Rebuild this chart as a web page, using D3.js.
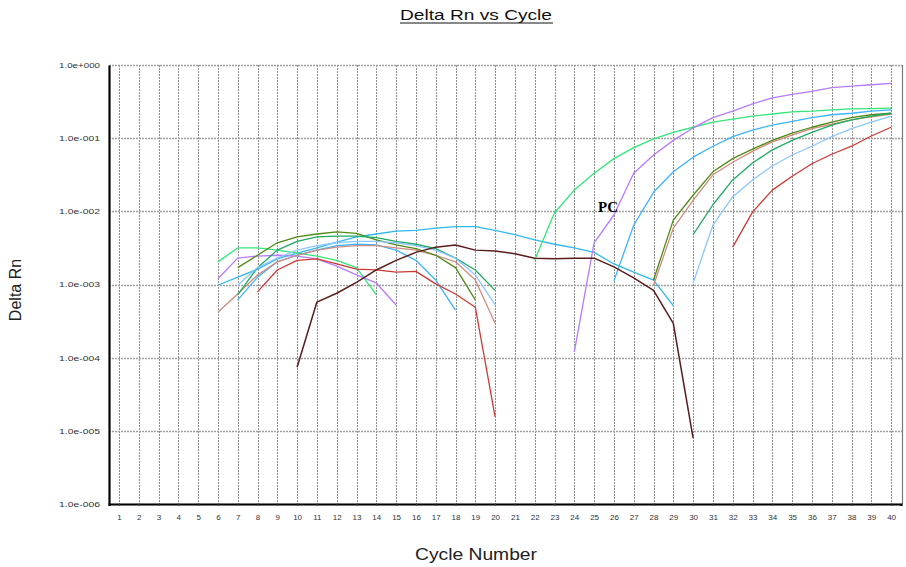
<!DOCTYPE html>
<html>
<head>
<meta charset="utf-8">
<script src="https://cdn.jsdelivr.net/npm/d3@7"></script>
<style>
  html, body { margin: 0; padding: 0; background: #fff; }
  svg { display: block; }
</style>
</head>
<body>
<svg id="chart" width="906" height="567"></svg>
<script>
// ---------------- DATA ----------------
const cycles = [1,2,3,4,5,6,7,8,9,10,11,12,13,14,15,16,17,18,19,20,21,22,23,24,25,26,27,28,29,30,31,32,33,34,35,36,37,38,39,40];
const yTickValues = [1, 1e-1, 1e-2, 1e-3, 1e-4, 1e-5, 1e-6];
const yTickLabels = ["1.0e+000","1.0e-001","1.0e-002","1.0e-003","1.0e-004","1.0e-005","1.0e-006"];
const _ = null;

// Delta Rn per cycle (null = not plotted on log scale)
const wellBlueLong = [_,_,_,_,_, 9.77e-4,1.26e-3,1.62e-3,2.24e-3,2.69e-3,3.16e-3,3.80e-3,4.47e-3,4.90e-3,5.37e-3,5.50e-3,5.89e-3,6.17e-3,6.17e-3,5.50e-3,4.79e-3,4.07e-3,3.55e-3,3.16e-3,2.75e-3,1.91e-3,1.48e-3,1.15e-3,5.13e-4, _,_,_,_,_,_,_,_,_,_,_];
const wellGreen = [_,_,_,_,_, 2.04e-3,3.16e-3,3.16e-3,2.95e-3,2.69e-3,2.45e-3,2.14e-3,1.70e-3,7.24e-4, _,_,_,_,_,_,_, 2.16e-3,9.55e-3,1.95e-2,3.31e-2,5.25e-2,7.41e-2,9.77e-2,0.120,0.141,0.166,0.182,0.200,0.214,0.229,0.234,0.243,0.251,0.254,0.257];
const wellPurple = [_,_,_,_,_, 1.20e-3,2.29e-3,2.45e-3,2.51e-3,2.45e-3,2.24e-3,1.78e-3,1.35e-3,1.05e-3,5.25e-4, _,_,_,_,_,_,_,_, 1.20e-4,3.72e-3,8.91e-3,3.31e-2,5.89e-2,9.33e-2,0.138,0.191,0.234,0.295,0.355,0.398,0.437,0.490,0.513,0.537,0.562];
const wellLightBlue = [_,_,_,_,_,_, 6.17e-4,1.26e-3,2.04e-3,2.51e-3,2.95e-3,3.39e-3,3.55e-3,3.47e-3,2.95e-3,2.14e-3,1.15e-3,4.47e-4, _,_,_,_,_,_,_, 1.12e-3,6.46e-3,1.82e-2,3.47e-2,5.50e-2,7.76e-2,0.105,0.129,0.151,0.170,0.191,0.209,0.219,0.234,0.243];
const wellRose = [_,_,_,_,_, 4.17e-4,7.41e-4,1.35e-3,2.04e-3,2.51e-3,2.95e-3,3.24e-3,3.39e-3,3.39e-3,3.16e-3,2.95e-3,2.51e-3,2.04e-3,1.15e-3,2.95e-4, _,_,_,_,_,_,_, 9.77e-4,5.89e-3,1.41e-2,3.16e-2,4.68e-2,6.61e-2,8.91e-2,0.110,0.135,0.155,0.178,0.195,0.214];
const wellOlive = [_,_,_,_,_,_, 1.70e-3,2.51e-3,3.72e-3,4.47e-3,4.90e-3,5.25e-3,5.01e-3,4.07e-3,3.47e-3,3.09e-3,2.51e-3,1.70e-3,6.17e-4, _,_,_,_,_,_,_,_, 1.15e-3,7.59e-3,1.66e-2,3.47e-2,5.25e-2,7.08e-2,9.33e-2,0.117,0.141,0.166,0.191,0.209,0.219];
const wellDarkGreen = [_,_,_,_,_,_, 7.24e-4,1.70e-3,2.95e-3,3.89e-3,4.47e-3,4.57e-3,4.57e-3,4.37e-3,3.89e-3,3.55e-3,3.09e-3,2.29e-3,1.58e-3,8.32e-4, _,_,_,_,_,_,_,_,_, 4.79e-3,1.23e-2,2.69e-2,4.57e-2,6.92e-2,9.33e-2,0.120,0.151,0.178,0.200,0.219];
const wellPaleBlue = [_,_,_,_,_,_, 9.77e-4,1.70e-3,2.29e-3,2.95e-3,3.39e-3,3.72e-3,3.89e-3,3.89e-3,3.72e-3,3.39e-3,2.95e-3,2.29e-3,1.35e-3,5.25e-4, _,_,_,_,_,_,_,_,_, 1.05e-3,6.46e-3,1.58e-2,2.69e-2,4.17e-2,5.89e-2,7.76e-2,0.105,0.135,0.166,0.200];
const wellRed = [_,_,_,_,_,_,_, 7.94e-4,1.58e-3,2.14e-3,2.24e-3,1.91e-3,1.62e-3,1.58e-3,1.48e-3,1.51e-3,1.02e-3,7.41e-4,4.90e-4,1.55e-5, _,_,_,_,_,_,_,_,_,_,_, 3.24e-3,9.77e-3,1.95e-2,3.02e-2,4.47e-2,6.03e-2,7.76e-2,0.107,0.141];
const wellBrown = [_,_,_,_,_,_,_,_,_, 7.41e-5,5.75e-4,7.59e-4,1.07e-3,1.58e-3,2.14e-3,2.75e-3,3.24e-3,3.47e-3,2.95e-3,2.88e-3,2.63e-3,2.29e-3,2.24e-3,2.29e-3,2.29e-3,1.74e-3,1.23e-3,8.32e-4,2.95e-4,7.94e-6, _,_,_,_,_,_,_,_,_,_];

const wellNames = ["blueLong","green","purple","lightBlue","rose","olive","darkGreen","paleBlue","red","brown"];
const wellColors = ["#2fb8f0","#33e678","#b77bff","#3cb4ff","#d08a80","#4f8a14","#1faa62","#8cc8ff","#cc3a36","#5a1c1c"];
const wellData = [wellBlueLong, wellGreen, wellPurple, wellLightBlue, wellRose, wellOlive, wellDarkGreen, wellPaleBlue, wellRed, wellBrown];

const annotationText = "PC";
const annotationCycle = 25.2;
const annotationValue = 1e-2;

// ---------------- LAYOUT ----------------
const svg = d3.select("#chart");
const pLeft = 109, pRight = 902, pTop = 65, pBottom = 504;

const x = d3.scaleLinear().domain([0.5, 40.5]).range([pLeft, pRight - 1]);
const y = d3.scaleLog().domain([1e-6, 1]).range([pBottom, pTop]);

// Title
svg.append("text")
  .attr("x", 476).attr("y", 20)
  .attr("text-anchor", "middle")
  .attr("font-family", "Liberation Sans, Arial, sans-serif")
  .attr("font-size", 15)
  .attr("textLength", 152).attr("lengthAdjust", "spacingAndGlyphs")
  .attr("fill", "#111")
  .text("Delta Rn vs Cycle");
svg.append("line").attr("x1", 400).attr("x2", 553).attr("y1", 23).attr("y2", 23)
  .attr("stroke", "#111").attr("stroke-width", 1);

// Grid: vertical
svg.append("g").selectAll("line").data(cycles).join("line")
  .attr("x1", d => Math.round(x(d)) + 0.5).attr("x2", d => Math.round(x(d)) + 0.5)
  .attr("y1", pTop).attr("y2", pBottom)
  .attr("stroke", "#8f8f8f").attr("stroke-width", 1)
  .attr("stroke-dasharray", "2,1");

// Grid: horizontal
svg.append("g").selectAll("line").data(yTickValues).join("line")
  .attr("x1", pLeft).attr("x2", pRight)
  .attr("y1", d => Math.round(y(d)) + 0.5).attr("y2", d => Math.round(y(d)) + 0.5)
  .attr("stroke", "#a0a0a0").attr("stroke-width", 1.6)
  .attr("stroke-dasharray", "2,1");

// right border
svg.append("line").attr("x1", pRight + 0.5).attr("x2", pRight + 0.5).attr("y1", pTop).attr("y2", pBottom)
  .attr("stroke", "#7a7a7a").attr("stroke-width", 1.2);

// Lines
const line = d3.line()
  .defined(d => d.v !== null)
  .x(d => x(d.c))
  .y(d => y(d.v));

const linesG = svg.append("g");
wellData.forEach((arr, i) => {
  const pts = cycles.map((c, j) => ({ c: c, v: arr[j] }));
  linesG.append("path")
    .attr("class", "well-" + wellNames[i])
    .attr("d", line(pts))
    .attr("fill", "none")
    .attr("stroke", wellColors[i])
    .attr("stroke-width", wellNames[i] === "brown" ? 1.5 : 1.3)
    .attr("stroke-linejoin", "round");
});

// Axes
const xAxis = d3.axisBottom(x).tickValues(cycles).tickSize(2).tickPadding(8);
const gx = svg.append("g").attr("transform", `translate(0,${pBottom})`).call(xAxis);
gx.select(".domain").attr("stroke", "#000").attr("stroke-width", 2.2);
gx.selectAll(".tick line").attr("stroke", "#444");
gx.selectAll("text")
  .attr("font-family", "Liberation Sans, Arial, sans-serif")
  .attr("font-size", 8).attr("fill", "#333");

const yAxis = d3.axisLeft(y).tickValues(yTickValues)
  .tickFormat((d, i) => yTickLabels[i]).tickSize(0).tickPadding(9);
const gy = svg.append("g").attr("transform", `translate(${pLeft},0)`).call(yAxis);
gy.select(".domain").attr("stroke", "#000").attr("stroke-width", 2.2);
gy.selectAll("text")
  .attr("font-family", "Liberation Sans, Arial, sans-serif")
  .attr("font-size", 7.5).attr("fill", "#333")
  .attr("textLength", 41).attr("lengthAdjust", "spacingAndGlyphs");

// Axis titles
svg.append("text")
  .attr("x", 476).attr("y", 560)
  .attr("text-anchor", "middle")
  .attr("font-family", "Liberation Sans, Arial, sans-serif")
  .attr("font-size", 17)
  .attr("textLength", 122).attr("lengthAdjust", "spacingAndGlyphs")
  .attr("fill", "#222")
  .text("Cycle Number");

svg.append("text")
  .attr("transform", "translate(21,290) rotate(-90)")
  .attr("text-anchor", "middle")
  .attr("font-family", "Liberation Sans, Arial, sans-serif")
  .attr("font-size", 16)
  .attr("fill", "#222")
  .text("Delta Rn");

// PC annotation
svg.append("text")
  .attr("x", x(annotationCycle)).attr("y", y(annotationValue) + 1)
  .attr("font-family", "Liberation Serif, Times New Roman, serif")
  .attr("font-weight", "bold")
  .attr("font-size", 15)
  .attr("fill", "#000")
  .text(annotationText);
</script>
</body>
</html>
